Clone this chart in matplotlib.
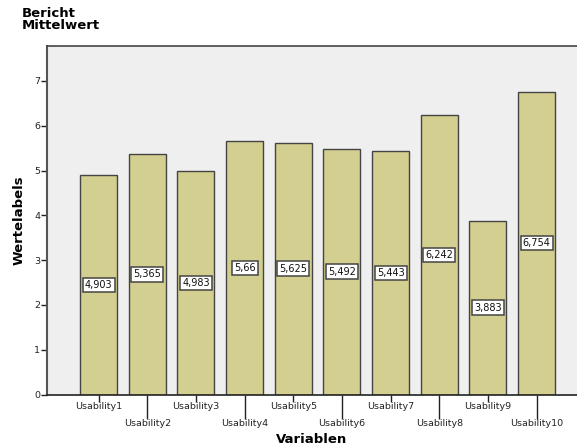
import matplotlib
matplotlib.use("Agg")
import matplotlib.pyplot as plt
import numpy as np

variables = ["Usability1", "Usability2", "Usability3", "Usability4", "Usability5",
             "Usability6", "Usability7", "Usability8", "Usability9", "Usability10"]
means = [4.903, 5.365, 4.983, 5.66, 5.625, 5.492, 5.443, 6.242, 3.883, 6.754]
y_ticks = [0, 1, 2, 3, 4, 5, 6, 7]

plt.rcParams["font.family"] = ["DejaVu Sans"]

fig = plt.figure(figsize=(5.77, 4.48), dpi=100)
ax = fig.add_axes([47 / 577, 53.4 / 448, 530 / 577, 348.6 / 448])
ax.set_facecolor("#efefef")

x = np.arange(len(variables))
ax.bar(x, means, width=0.76, color="#d2cf91", edgecolor="#444444", linewidth=1.0, zorder=2)

for xi, v in zip(x, means):
    txt = ("%g" % v).replace(".", ",")
    ax.text(xi, v / 2, txt, ha="center", va="center", fontsize=7, color="#111111", zorder=3,
            bbox=dict(boxstyle="square,pad=0.22", facecolor="white", edgecolor="#444444", linewidth=1.1))

ax.set_xlim(-1.06, 9.83)
ax.set_ylim(0, 7.78)
ax.set_yticks(y_ticks)
ax.tick_params(axis="y", direction="out", length=4, width=1, color="#222222", labelsize=6.8,
               labelcolor="#222222", pad=1)

# alternate the category labels on two rows
ax.set_xticks(x[::2])
ax.set_xticklabels(variables[::2])
ax.set_xticks(x[1::2], minor=True)
ax.set_xticklabels(variables[1::2], minor=True)
ax.tick_params(axis="x", which="major", direction="out", length=5, width=1, color="#222222",
               labelsize=6.8, labelcolor="#222222", pad=0.5)
ax.tick_params(axis="x", which="minor", direction="out", length=17, width=1, color="#222222",
               labelsize=6.8, labelcolor="#222222", pad=0.5)

ax.spines["right"].set_visible(False)
ax.spines["left"].set_color("#555555")
ax.spines["left"].set_linewidth(1.5)
ax.spines["bottom"].set_color("#222222")
ax.spines["bottom"].set_linewidth(1.2)
ax.spines["top"].set_color("#444444")
ax.spines["top"].set_linewidth(1.2)

ax.set_xlabel("Variablen", fontsize=9.5, fontweight="bold", labelpad=4)
ax.set_ylabel("Wertelabels", fontsize=9.5, fontweight="bold", labelpad=6)

fig.text(22 / 577, 1 - 7 / 448, "Bericht\nMittelwert", ha="left", va="top", fontsize=9.5,
         fontweight="bold", linespacing=0.92)

fig.savefig("out.png", dpi=100, facecolor="white")
